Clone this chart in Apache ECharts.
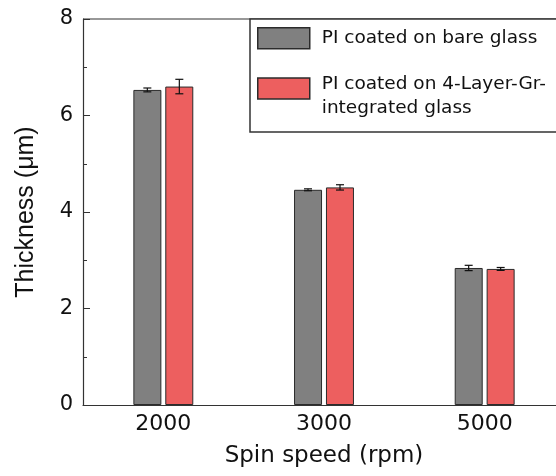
<!DOCTYPE html>
<html>
<head>
<meta charset="utf-8">
<script src="https://cdn.jsdelivr.net/npm/echarts@6/dist/echarts.min.js"></script>
<style>
  html, body { margin: 0; padding: 0; background: #fff; }
  #chart { width: 556px; height: 476px; }
</style>
</head>
<body>
<div id="chart"></div>
<script>
// data
const speeds = ['2000', '3000', '5000'];
const seriesNames = ['PI coated on bare glass', 'PI coated on 4-Layer-Gr-\nintegrated glass'];
const bareGlass = [6.53, 4.46, 2.84];
const bareGlassErr = [0.04, 0.02, 0.055];
const grGlass = [6.60, 4.51, 2.82];
const grGlassErr = [0.15, 0.055, 0.03];
const yTicks = [0, 2, 4, 6, 8];

const colors = {
  gray: '#808080',
  red: '#ED5F5F',
  edge: '#2b2b2b',
  text: '#111'
};
// the source figure is stretched sideways, so the wider face fits horizontal text better
const wideFont = '"DejaVu Sans", sans-serif';
const font = '"Liberation Sans", Arial, sans-serif';
const barW = 28;
const barOffset = 16; // half of bar width + half gap

function errorSeries(values, errs, offset) {
  return {
    type: 'custom',
    z: 5,
    silent: true,
    data: values.map((v, i) => [i, v, errs[i]]),
    renderItem: function (params, api) {
      const idx = api.value(0);
      const v = api.value(1);
      const e = api.value(2);
      const hi = api.coord([idx, v + e]);
      const lo = api.coord([idx, v - e]);
      const x = hi[0] + offset;
      const cap = 4;
      const style = { stroke: '#111', lineWidth: 1.2 };
      return {
        type: 'group',
        children: [
          { type: 'line', shape: { x1: x, y1: hi[1], x2: x, y2: lo[1] }, style },
          { type: 'line', shape: { x1: x - cap, y1: hi[1], x2: x + cap, y2: hi[1] }, style },
          { type: 'line', shape: { x1: x - cap, y1: lo[1], x2: x + cap, y2: lo[1] }, style }
        ]
      };
    }
  };
}

const chart = echarts.init(document.getElementById('chart'));
chart.setOption({
  animation: false,
  textStyle: { fontFamily: font, color: colors.text },
  grid: { left: 83, right: -9, top: 19, bottom: 71, outerBoundsMode: 'none' },
  legend: {
    left: 250,
    top: 19,
    orient: 'vertical',
    icon: 'rect',
    padding: [8, 60, 14, 7],
    itemGap: 10,
    itemWidth: 52,
    itemHeight: 21,
    borderColor: '#333',
    borderWidth: 1.5,
    borderRadius: 0,
    backgroundColor: '#fff',
    itemStyle: { borderColor: colors.edge, borderWidth: 1.5 },
    data: seriesNames,
    formatter: function (name) {
      const lines = name.split('\n');
      // multi-line entry: a spacer line pushes the text below the swatch centre
      const head = lines.length > 1 ? '{s| }\n' : '';
      return head + lines.map(l => '{a|' + l + '}').join('\n');
    },
    textStyle: {
      fontFamily: wideFont, fontSize: 18.5, color: colors.text, padding: [0, 0, 0, 7],
      rich: {
        a: { fontFamily: wideFont, fontSize: 18.5, color: colors.text, lineHeight: 24 },
        s: { fontSize: 10, lineHeight: 16 }
      }
    }
  },
  xAxis: {
    type: 'category',
    data: speeds,
    name: 'Spin speed (rpm)',
    nameLocation: 'middle',
    nameGap: 40,
    nameTextStyle: { fontSize: 23, color: colors.text, fontFamily: wideFont },
    axisLine: { lineStyle: { color: '#333', width: 1.2 } },
    axisTick: { show: false },
    axisLabel: { fontSize: 22, color: colors.text, margin: 8, fontFamily: wideFont }
  },
  yAxis: {
    type: 'value',
    min: yTicks[0],
    max: yTicks[yTicks.length - 1],
    interval: 2,
    name: 'Thickness (\u03bcm)',
    nameLocation: 'middle',
    nameGap: 44,
    nameTextStyle: { fontSize: 25, color: colors.text, fontFamily: font },
    axisLine: { show: true, lineStyle: { color: '#333', width: 1.2 } },
    axisTick: { show: true, inside: true, length: 7, lineStyle: { color: '#333' } },
    minorTick: { show: true, splitNumber: 2, length: 4, lineStyle: { color: '#333' } },
    splitLine: { show: false },
    axisLabel: { fontSize: 21, color: colors.text, margin: 10, fontFamily: wideFont }
  },
  graphic: [
    // top frame line of the plot box
    { type: 'line', shape: { x1: 83, y1: 19, x2: 556, y2: 19 }, style: { stroke: '#333', lineWidth: 1.2 }, z: 1 }
  ],
  series: [
    {
      name: seriesNames[0],
      type: 'bar',
      data: bareGlass,
      barWidth: barW,
      barGap: '14%',
      itemStyle: { color: colors.gray, borderColor: colors.edge, borderWidth: 1 }
    },
    {
      name: seriesNames[1],
      type: 'bar',
      data: grGlass,
      barWidth: barW,
      barGap: '14%',
      itemStyle: { color: colors.red, borderColor: colors.edge, borderWidth: 1 }
    },
    errorSeries(bareGlass, bareGlassErr, -barOffset),
    errorSeries(grGlass, grGlassErr, barOffset)
  ]
});
</script>
</body>
</html>
